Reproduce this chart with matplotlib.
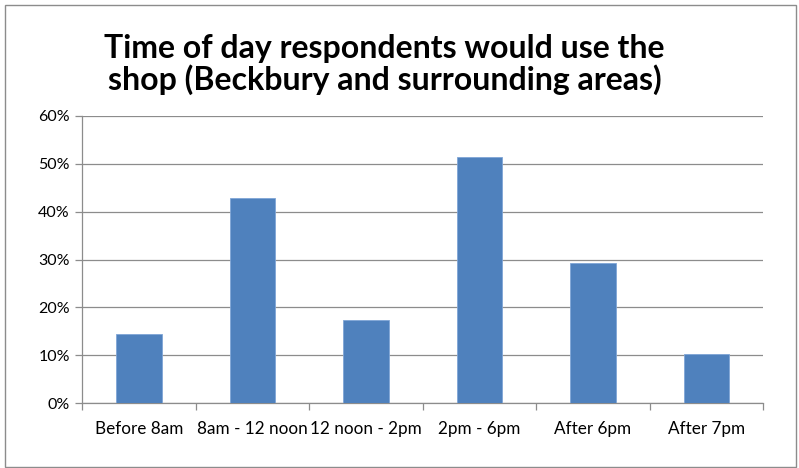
import matplotlib
matplotlib.use("Agg")
import matplotlib.pyplot as plt
from matplotlib.patches import Rectangle
from matplotlib.ticker import PercentFormatter

categories = ["Before 8am", "8am - 12 noon", "12 noon - 2pm", "2pm - 6pm", "After 6pm", "After 7pm"]
values = [14.5, 42.9, 17.4, 51.3, 29.2, 10.3]
yticks = [0, 10, 20, 30, 40, 50, 60]

plt.rcParams["font.family"] = ["Lato", "DejaVu Sans"]

fig = plt.figure(figsize=(7.99, 4.68), dpi=100)
ax = fig.add_axes([0.103, 0.1382, 0.8523, 0.6146])

x = list(range(len(categories)))
ax.bar(x, values, width=0.4, color="#4F81BD", edgecolor="#7FA5D6", linewidth=0.6, zorder=3)

ax.set_xlim(-0.5, len(categories) - 0.5)
ax.set_ylim(0, 60)
ax.set_yticks(yticks)
ax.yaxis.set_major_formatter(PercentFormatter(decimals=0))
ax.grid(axis="y", color="#8C8C8C", linewidth=0.9, zorder=0)

ax.set_xticks(x)
ax.set_xticklabels(categories, fontsize=12.3)
ax.tick_params(axis="x", length=0, pad=13)
ax.set_xticks([i - 0.5 for i in range(len(categories) + 1)], minor=True)
ax.tick_params(axis="x", which="minor", length=5, color="#8C8C8C", width=0.9)
ax.tick_params(axis="y", labelsize=11.5, length=5, color="#8C8C8C", width=0.9, pad=4)

for side in ["top", "right"]:
    ax.spines[side].set_visible(False)
for side in ["left", "bottom"]:
    ax.spines[side].set_color("#8C8C8C")
    ax.spines[side].set_linewidth(0.9)

fig.text(0.481, 0.862, "Time of day respondents would use the\nshop (Beckbury and surrounding areas)",
         ha="center", va="center", fontsize=23, fontweight="bold", linespacing=1.08)

fig.patches.append(Rectangle((0.006, 0.003), 0.99, 0.987, transform=fig.transFigure,
                             fill=False, edgecolor="#8C8C8C", linewidth=1))

plt.savefig("out.png", dpi=100)
plt.close()
